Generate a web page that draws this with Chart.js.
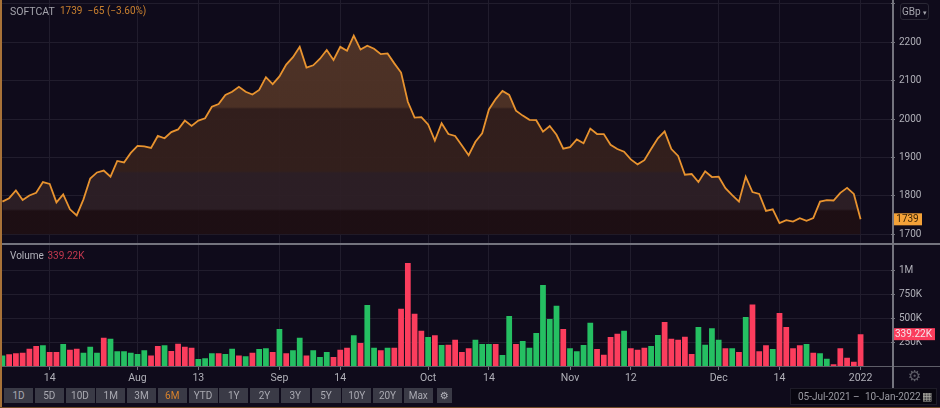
<!DOCTYPE html>
<html>
<head>
<meta charset="utf-8">
<script src="https://cdn.jsdelivr.net/npm/chart.js@4"></script>
<style>
html, body { margin: 0; padding: 0; background: #0f0b1b; }
body { position: relative; width: 940px; height: 408px; overflow: hidden; font-family: Roboto, sans-serif; }
#softcatChart { position: absolute; left: -1px; top: 0; }
.abs { position: absolute; white-space: nowrap; }
.rule { position: absolute; background: #74747e; }
.btn { position: absolute; top: 388px; height: 15px; line-height: 15px; background: #3a3a46; color: #a9a9b1; font-size: 10px; text-align: center; }
</style>
</head>
<body>
<canvas id="softcatChart" width="941" height="408"></canvas>

<div class="rule" style="left:0;top:243px;width:940px;height:2px"></div>
<div class="rule" style="left:0;top:366px;width:940px;height:1px;background:#5e5e68"></div>
<div class="rule" style="left:892px;top:0;width:1.5px;height:388px"></div>

<div class="abs" style="left:10px;top:5px;font-size:10.5px;color:#a4a4ac">SOFTCAT</div>
<div class="abs" style="left:60px;top:5px;font-size:10px;color:#c9802f">1739&nbsp; −65 (−3.60%)</div>
<div class="abs" style="left:10px;top:250px;font-size:10px;color:#b4b4bc">Volume</div>
<div class="abs" style="left:47.5px;top:250px;font-size:10px;color:#c4394f">339.22K</div>

<div class="abs" style="left:900px;top:3px;width:27px;height:15px;line-height:15px;border:1px solid #2a2835;border-radius:3px;font-size:10px;color:#a4a4ac;text-align:center">GBp <span style="font-size:7px">▾</span></div>
<div class="abs" style="left:908px;top:367px;font-family:'DejaVu Sans';font-size:15px;color:#5e5e68">⚙</div>

<div id="rangeButtons"></div>
<div class="btn" style="left:437px;width:15px;font-family:'DejaVu Sans';color:#b4b4bc">⚙</div>

<div class="abs" style="left:790px;top:388px;width:145px;height:15px;background:#08060f;border:1px solid #1e1c28"></div>
<div class="abs" style="left:798px;top:389px;line-height:15px;font-size:10px;color:#9a9aa2">05-Jul-2021</div>
<div class="abs" style="left:853px;top:389px;line-height:15px;font-size:10px;color:#9a9aa2">–</div>
<div class="abs" style="left:865px;top:389px;line-height:15px;font-size:10px;color:#9a9aa2">10-Jan-2022</div>
<div class="abs" style="left:922px;top:389px;line-height:15px;font-size:11px;font-family:'DejaVu Sans';color:#b0b0a8">▦</div>

<div class="abs" style="left:0;top:0;width:2px;height:408px;background:#a87238"></div>
<div class="abs" style="left:0;top:407px;width:940px;height:1px;background:#6e4a26"></div>

<script>
const priceData = [
    1785, 1794, 1814, 1789, 1801, 1808, 1836, 1831, 1783, 1804, 1765, 1749, 1791, 1845, 1861, 1866,
    1850, 1891, 1887, 1912, 1930, 1929, 1925, 1956, 1950, 1966, 1973, 1996, 1982, 1996, 2002, 2032,
    2039, 2063, 2071, 2084, 2071, 2064, 2076, 2109, 2091, 2111, 2142, 2161, 2188, 2134, 2140, 2157,
    2180, 2154, 2188, 2178, 2217, 2181, 2191, 2183, 2169, 2171, 2145, 2121, 2045, 2004, 2005, 1986,
    1944, 1989, 1961, 1956, 1931, 1906, 1941, 1963, 2025, 2052, 2073, 2063, 2022, 2009, 1998, 1997,
    1967, 1982, 1959, 1923, 1927, 1947, 1937, 1975, 1961, 1961, 1933, 1922, 1915, 1895, 1882, 1893,
    1922, 1950, 1968, 1922, 1904, 1855, 1857, 1836, 1864, 1849, 1850, 1820, 1802, 1785, 1850, 1810,
    1805, 1761, 1765, 1729, 1737, 1733, 1742, 1735, 1742, 1785, 1789, 1788, 1808, 1821, 1805, 1739,
];

// thousands of shares
const volumeData = [
    120, 131, 141, 148, 189, 217, 224, 155, 155, 238, 179, 189, 148, 210, 148, 303,
    293, 162, 162, 148, 134, 172, 120, 217, 224, 165, 241, 210, 200, 83, 90, 141,
    141, 134, 189, 120, 110, 148, 186, 193, 155, 393, 141, 172, 303, 120, 172, 103,
    155, 103, 179, 200, 327, 248, 641, 200, 172, 200, 200, 603, 1075, 551, 375, 310,
    327, 227, 231, 282, 155, 193, 282, 238, 238, 238, 124, 527, 238, 269, 200, 351,
    847, 496, 634, 393, 193, 162, 227, 458, 186, 127, 310, 344, 375, 193, 179, 200,
    217, 331, 465, 293, 282, 313, 134, 413, 231, 400, 282, 193, 193, 155, 517, 647,
    162, 224, 186, 558, 413, 193, 224, 238, 148, 141, 86, 28, 193, 96, 55, 339.22,
];

// 1 = green bar, 0 = red bar
const volumeUp = [
    1, 0, 0, 0, 0, 0, 1, 0, 0, 1, 0, 0, 1, 1, 1, 0,
    1, 1, 1, 1, 1, 1, 0, 0, 1, 0, 0, 0, 0, 1, 1, 1,
    0, 1, 1, 0, 1, 0, 1, 1, 0, 1, 0, 1, 1, 0, 1, 1,
    1, 0, 0, 0, 1, 0, 1, 1, 0, 1, 0, 0, 0, 0, 0, 1,
    0, 1, 0, 0, 0, 0, 1, 1, 1, 0, 1, 1, 0, 1, 1, 1,
    1, 1, 1, 0, 1, 1, 1, 1, 0, 0, 0, 0, 1, 0, 0, 0,
    1, 1, 0, 0, 0, 0, 0, 1, 1, 1, 1, 0, 1, 0, 1, 0,
    0, 0, 1, 0, 0, 0, 0, 1, 0, 1, 1, 0, 0, 0, 0, 0,
];

const tickIndexes = [7, 20, 29, 41, 50, 63, 72, 84, 93, 106, 115, 127];
const tickLabels = ["14", "Aug", "13", "Sep", "14", "Oct", "14", "Nov", "12", "Dec", "14", "2022"];
const priceTicks = [1700, 1800, 1900, 2000, 2100, 2200, 2300];
const volumeTicks = [250, 500, 750, 1000];
const volumeTickLabels = ["250K", "500K", "750K", "1M"];
const rangeLabels = ["1D", "5D", "10D", "1M", "3M", "6M", "YTD", "1Y", "2Y", "3Y", "5Y", "10Y", "20Y", "Max"];

// 132 slots, the last 4 stay empty to the right of the last session
const xLabels = Array.from({ length: 132 }, () => "");
tickIndexes.forEach((idx, i) => { xLabels[idx] = tickLabels[i]; });

const GREEN = "#25bf62";
const RED = "#fb3d5d";
const LINE = "#e8932f";
const GRID = "#211d2d";
const AXIS_TEXT = "#b0b0b8";

rangeLabels.forEach(function (label, i) {
    const b = document.createElement("div");
    b.className = "btn";
    b.textContent = label;
    b.style.left = 4 + i * 30.75 + "px";
    b.style.width = "29px";
    if (label === "6M") b.style.color = "#d9822b";
    document.getElementById("rangeButtons").appendChild(b);
});

function areaFill(ctx) {
    const g = ctx.chart.ctx.createLinearGradient(0, 0, 0, 235);
    const stops = [
        [0, "rgba(80,52,41,0.97)"], [107, "rgba(78,50,38,0.97)"],
        [109, "rgba(51,31,29,0.97)"], [171, "rgba(52,32,29,0.97)"],
        [173, "rgba(45,31,38,0.97)"], [209, "rgba(45,31,38,0.97)"],
        [211, "rgba(30,15,20,0.97)"], [235, "rgba(30,15,20,0.97)"],
    ];
    stops.forEach((s) => g.addColorStop(s[0] / 235, s[1]));
    return g;
}

const lastValueTags = {
    id: "lastValueTags",
    afterDraw(chart) {
        const c = chart.ctx;
        const tag = function (y, left, width, fill, color, text) {
            c.save();
            c.fillStyle = fill;
            c.fillRect(left, y - 6, width, 12);
            c.fillStyle = color;
            c.font = "10px Roboto";
            c.textBaseline = "middle";
            c.textAlign = "center";
            c.fillText(text, left + width / 2, y + 0.5);
            c.restore();
        };
        tag(chart.scales.yPrice.getPixelForValue(priceData[priceData.length - 1]), 894, 29, "#f4a238", "#3a2408", "1739");
        tag(chart.scales.yVolume.getPixelForValue(volumeData[volumeData.length - 1]), 893, 43, RED, "#f4e6ea", "339.22K");
    },
};

function fitYAxis(s) {
    s.width = 49;
    s.paddingTop = 0;
    s.paddingBottom = 0;
}

new Chart(document.getElementById("softcatChart").getContext("2d"), {
    data: {
        labels: xLabels,
        datasets: [
            {
                type: "line",
                data: priceData,
                yAxisID: "yPrice",
                borderColor: LINE,
                backgroundColor: areaFill,
                borderWidth: 1.8,
                pointRadius: 0,
                tension: 0,
                fill: { value: 1700 },
            },
            {
                type: "bar",
                data: volumeData,
                yAxisID: "yVolume",
                backgroundColor: volumeUp.map((u) => (u ? GREEN : RED)),
                barPercentage: 0.85,
                categoryPercentage: 1,
            },
        ],
    },
    plugins: [lastValueTags],
    options: {
        responsive: false,
        animation: false,
        layout: { padding: 0 },
        plugins: { legend: { display: false }, tooltip: { enabled: false } },
        scales: {
            x: {
                type: "category",
                offset: true,
                afterFit: (s) => { s.height = 41; s.paddingLeft = 0; s.paddingRight = 0; },
                grid: {
                    offset: false,
                    color: (ctx) => (xLabels[ctx.index] ? GRID : "transparent"),
                    tickColor: (ctx) => (xLabels[ctx.index] ? "#74747e" : "transparent"),
                    tickLength: 3,
                },
                border: { display: false },
                ticks: {
                    autoSkip: false,
                    maxRotation: 0,
                    padding: 2,
                    color: AXIS_TEXT,
                    font: { family: "Roboto", size: 10.5 },
                },
            },
            yPrice: {
                position: "right",
                stack: "panes",
                stackWeight: 243.5,
                min: 1676,
                max: 2310,
                afterFit: fitYAxis,
                afterBuildTicks: (s) => { s.ticks = priceTicks.map((v) => ({ value: v })); },
                grid: { color: GRID, tickColor: "#74747e", tickLength: 4 },
                border: { display: false },
                ticks: {
                    autoSkip: false,
                    padding: 4,
                    color: AXIS_TEXT,
                    font: { family: "Roboto", size: 10 },
                    callback: (v) => (v === 2300 ? "" : String(v)),
                },
            },
            yVolume: {
                position: "right",
                stack: "panes",
                stackWeight: 123.5,
                min: 0,
                max: 1276,
                afterFit: fitYAxis,
                afterBuildTicks: (s) => { s.ticks = volumeTicks.map((v) => ({ value: v })); },
                grid: { color: GRID, tickColor: "#74747e", tickLength: 4 },
                border: { display: false },
                ticks: {
                    autoSkip: false,
                    padding: 4,
                    color: AXIS_TEXT,
                    font: { family: "Roboto", size: 10 },
                    callback: (v) => volumeTickLabels[volumeTicks.indexOf(v)],
                },
            },
        },
    },
});
</script>
</body>
</html>
